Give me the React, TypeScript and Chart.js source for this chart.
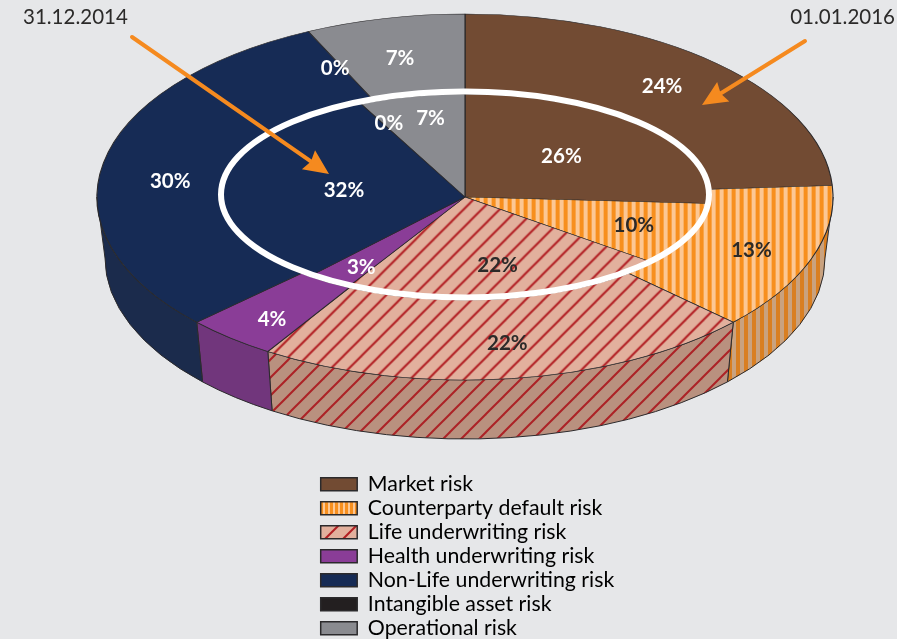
import React, { useEffect, useRef } from "react";
import { Chart, registerables } from "chart.js";

Chart.register(...registerables);

const categories = [
  "Market risk",
  "Counterparty default risk",
  "Life underwriting risk",
  "Health underwriting risk",
  "Non-Life underwriting risk",
  "Intangible asset risk",
  "Operational risk",
];
const shares2016 = [24, 13, 22, 4, 30, 0, 7];
const shares2014 = [26, 10, 22, 3, 32, 0, 7];
const dateOuter = "01.01.2016";
const dateInner = "31.12.2014";

const WIDTH = 897;
const HEIGHT = 639;
const PAGE_BG = "#e6e7e9";
const EDGE = "#2b2a2c";
const INK = "#2b2a29";
const ARROW = "#f58a1f";
const FONT = "Lato, Carlito, 'Open Sans', sans-serif";

// Projected geometry of the tilted disc.
const CX = 465;
const CY = 197;
const OUTER = { rx: 368, ry: 183 };
const INNER = { rx: 244, ry: 103 };
const BASE = { cy: 258, rx: 360, ry: 181 };
const RING_LIFT = 2.5;

// Label placement: fraction of the radius, then a small hand adjustment in pixels.
const outerReach = [0.81, 0.81, 0.81, 0.81, 0.81, 0.81, 0.81];
const innerReach = [0.57, 0.74, 0.67, 0.8, 0.5, 0.8, 0.78];
const outerNudge = [[-7, -3], [6, 3], [5, -1], [-3, 8], [-2, 12], [-3, 6], [0, 6]];
const innerNudge = [[-5, 0], [1, 0], [2, 1], [6, 2], [0, 0], [7, 1], [7, 0]];
const labelInk = ["#fff", INK, INK, "#fff", "#fff", "#fff", "#fff"];

function tile(size: number, paint: (c: CanvasRenderingContext2D) => void) {
  const el = document.createElement("canvas");
  el.width = size;
  el.height = size;
  paint(el.getContext("2d")!);
  return el;
}

function stripes(bg: string, fg: string, period: number, band: number) {
  return tile(period, (c) => {
    c.fillStyle = bg;
    c.fillRect(0, 0, period, period);
    c.fillStyle = fg;
    c.fillRect(0, 0, band, period);
  });
}

function hatch(bg: string, fg: string) {
  const p = 18;
  return tile(p, (c) => {
    c.fillStyle = bg;
    c.fillRect(0, 0, p, p);
    c.strokeStyle = fg;
    c.lineWidth = 2;
    for (const o of [-p, 0, p]) {
      c.beginPath();
      c.moveTo(o - 2, p + 2);
      c.lineTo(o + p + 2, -2);
      c.stroke();
    }
  });
}

function arrow(c: CanvasRenderingContext2D, x0: number, y0: number, x1: number, y1: number) {
  const a = Math.atan2(y1 - y0, x1 - x0);
  const len = 25;
  const halfW = 11.5;
  const bx = x1 - len * Math.cos(a);
  const by = y1 - len * Math.sin(a);
  c.strokeStyle = ARROW;
  c.fillStyle = ARROW;
  c.lineWidth = 4;
  c.lineCap = "round";
  c.beginPath();
  c.moveTo(x0, y0);
  c.lineTo(bx + 6 * Math.cos(a), by + 6 * Math.sin(a));
  c.stroke();
  c.beginPath();
  c.moveTo(x1, y1);
  c.lineTo(bx - halfW * Math.sin(a), by + halfW * Math.cos(a));
  c.lineTo(bx + 3 * Math.cos(a), by + 3 * Math.sin(a));
  c.lineTo(bx + halfW * Math.sin(a), by - halfW * Math.cos(a));
  c.closePath();
  c.fill();
}

export default function App() {
  const ref = useRef<HTMLCanvasElement>(null);

  useEffect(() => {
    document.body.style.margin = "0";
    document.body.style.background = PAGE_BG;
    const canvas = ref.current!;
    const ctx = canvas.getContext("2d")!;

    const orangeTile = stripes("#fcc794", "#f78f1e", 8, 4);
    const lifeTile = hatch("#e2b09d", "#b21f24");
    const outerFills = ["#724b33", ctx.createPattern(orangeTile, "repeat")!, ctx.createPattern(lifeTile, "repeat")!, "#8a3d97", "#162b55", "#231f20", "#8a8b90"];
    const innerFills = ["#724b33", ctx.createPattern(orangeTile, "repeat")!, ctx.createPattern(lifeTile, "repeat")!, "#8a3d97", "#162b55", "#231f20", "#8a8b90"];
    const legendFills = ["#724b33", ctx.createPattern(stripes("#fcc794", "#f78f1e", 5, 3), "repeat")!, ctx.createPattern(lifeTile, "repeat")!, "#8a3d97", "#162b55", "#231f20", "#8a8b90"];
    const wallFills = [
      "#5a3b28",
      ctx.createPattern(stripes("#c9a27f", "#d97f22", 8, 4), "repeat")!,
      ctx.createPattern(hatch("#b9917f", "#ac2226"), "repeat")!,
      "#71367c",
      "#1b2b4c",
      "#231f20",
      "#6f7074",
    ];

    const projection = (index: number, el: any) => {
      const shape = index === 0 ? OUTER : INNER;
      return { sx: shape.rx / el.outerRadius, sy: shape.ry / el.outerRadius };
    };

    const discPlugin = {
      id: "tiltedDisc",
      afterDatasetUpdate(chart: any, args: any) {
        // The later ring sits on top of a full disc rather than a band.
        if (args.index === 0) {
          chart.getDatasetMeta(0).data.forEach((el: any) => {
            el.innerRadius = 0;
          });
        }
      },
      afterLayout(chart: any) {
        const lg = chart.legend;
        const w = lg.width;
        const h = lg.height;
        lg.left = 318;
        lg.right = 318 + w;
        lg.top = 471;
        lg.bottom = 471 + h;
        lg.adjustHitBoxes();
      },
      beforeDatasetsDraw(chart: any) {
        const c = chart.ctx;
        chart.getDatasetMeta(0).data.forEach((el: any, i: number) => {
          const a = Math.max(el.startAngle, 0);
          const b = Math.min(el.endAngle, Math.PI);
          if (b <= a) return;
          c.beginPath();
          c.ellipse(CX, CY, OUTER.rx, OUTER.ry, 0, a, b);
          c.ellipse(CX, BASE.cy, BASE.rx, BASE.ry, 0, b, a, true);
          c.closePath();
          c.fillStyle = wallFills[i];
          c.fill();
          c.strokeStyle = EDGE;
          c.lineWidth = 1;
          c.stroke();
        });
      },
      beforeDatasetDraw(chart: any, args: any) {
        const meta = chart.getDatasetMeta(args.index);
        const el = meta.data[0];
        const { sx, sy } = projection(args.index, el);
        // Hatching stays at page scale while the arcs are flattened.
        const flat = new DOMMatrix().scale(1 / sx, 1 / sy);
        (args.index === 0 ? outerFills : innerFills).forEach((f: any) => {
          if (typeof f !== "string") f.setTransform(flat);
        });
        const c = chart.ctx;
        c.save();
        c.translate(CX, CY);
        c.scale(sx, sy);
        c.translate(-el.x, -el.y);
      },
      afterDatasetDraw(chart: any) {
        chart.ctx.restore();
      },
      afterDatasetsDraw(chart: any) {
        const c = chart.ctx;
        c.save();
        c.strokeStyle = "#fff";
        c.lineWidth = 6;
        c.beginPath();
        c.ellipse(CX, CY - RING_LIFT, INNER.rx, INNER.ry, 0, 0, Math.PI * 2);
        c.stroke();

        c.textAlign = "center";
        c.textBaseline = "middle";
        c.font = `bold 20.5px ${FONT}`;
        [
          { meta: chart.getDatasetMeta(0), shape: OUTER, reach: outerReach, nudge: outerNudge, values: shares2016 },
          { meta: chart.getDatasetMeta(1), shape: INNER, reach: innerReach, nudge: innerNudge, values: shares2014 },
        ].forEach(({ meta, shape, reach, nudge, values }) => {
          meta.data.forEach((el: any, i: number) => {
            const mid = (el.startAngle + el.endAngle) / 2;
            c.fillStyle = labelInk[i];
            c.fillText(
              `${values[i]}%`,
              CX + reach[i] * shape.rx * Math.cos(mid) + nudge[i][0],
              CY + reach[i] * shape.ry * Math.sin(mid) + nudge[i][1]
            );
          });
        });

        arrow(c, 132, 37, 329, 174);
        arrow(c, 805, 41, 702, 105);

        c.fillStyle = INK;
        c.font = `20.5px ${FONT}`;
        c.textBaseline = "alphabetic";
        c.textAlign = "left";
        c.fillText(dateInner, 23, 24);
        c.textAlign = "right";
        c.fillText(dateOuter, 895, 24);
        c.restore();
      },
    };

    const chart = new Chart(canvas, {
      type: "pie",
      data: {
        labels: categories,
        datasets: [
          { label: dateOuter, data: shares2016, backgroundColor: outerFills, weight: 124, order: 1, clip: false },
          { label: dateInner, data: shares2014, backgroundColor: innerFills, weight: 244, order: 0, clip: false },
        ],
      } as any,
      options: {
        responsive: false,
        animation: false,
        devicePixelRatio: 1,
        layout: { padding: 0 },
        elements: { arc: { borderColor: EDGE, borderWidth: 1, borderJoinStyle: "bevel" } },
        plugins: {
          tooltip: { enabled: false },
          legend: {
            position: "chartArea",
            align: "start",
            labels: {
              boxWidth: 36.5,
              boxHeight: 13,
              padding: 2.7,
              color: INK,
              font: { family: FONT, size: 21.3 },
              generateLabels: () =>
                categories.map((text, i) => ({
                  text,
                  index: i,
                  fillStyle: legendFills[i],
                  strokeStyle: EDGE,
                  lineWidth: 1.5,
                })),
            },
          },
        },
      } as any,
      plugins: [discPlugin],
    });
    return () => chart.destroy();
  }, []);

  return (
    <div style={{ width: WIDTH, height: HEIGHT, background: PAGE_BG, overflow: "hidden" }}>
      <canvas ref={ref} width={WIDTH} height={HEIGHT} style={{ display: "block" }} />
    </div>
  );
}
